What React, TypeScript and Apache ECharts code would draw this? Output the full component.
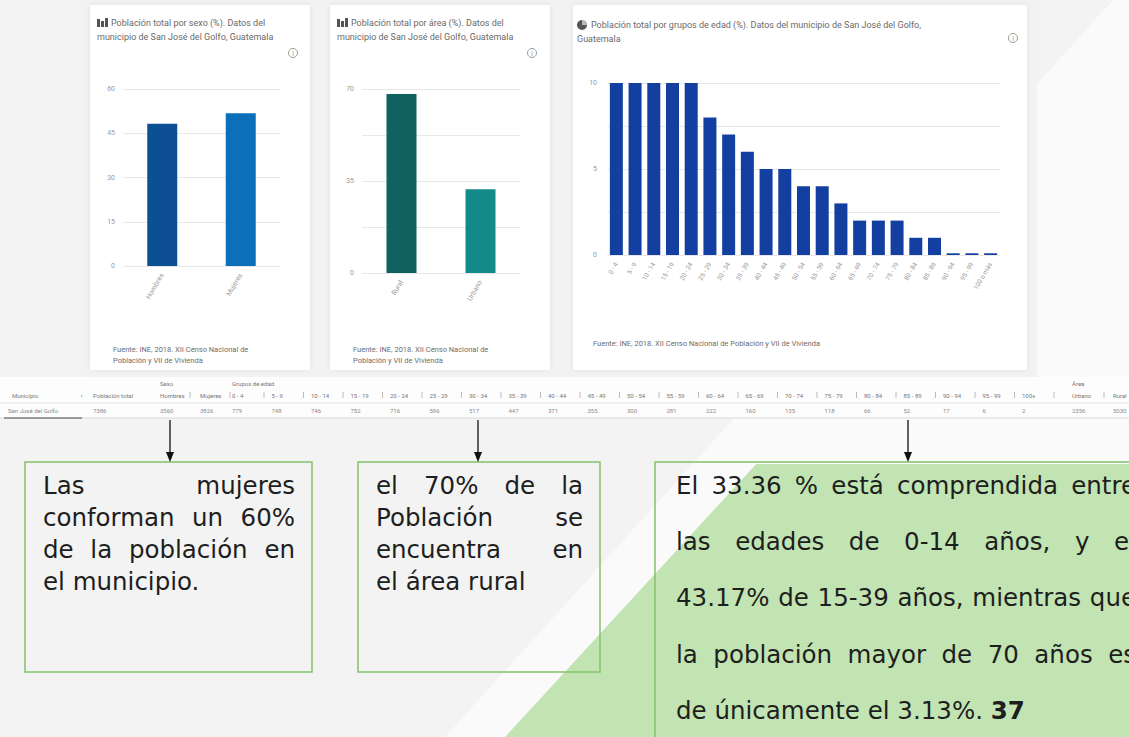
import React, { useEffect, useRef } from "react";
import * as echarts from "echarts";

const W = 1129;
const H = 737;

// ---------- chart data ----------
const sexCategories = ["Hombres", "Mujeres"];
const sexValues = [48.2, 51.8];
const areaCategories = ["Rural", "Urbano"];
const areaValues = [68.1, 31.9];
const ageCategories = [
  "0 - 4", "5 - 9", "10 - 14", "15 - 19", "20 - 24", "25 - 29", "30 - 34",
  "35 - 39", "40 - 44", "45 - 49", "50 - 54", "55 - 59", "60 - 64", "65 - 69",
  "70 - 74", "75 - 79", "80 - 84", "85 - 89", "90 - 94", "95 - 99", "100 o más",
];
const ageValues = [10, 10, 10, 10, 10, 8, 7, 6, 5, 5, 4, 4, 3, 2, 2, 2, 1, 1, 0.1, 0.1, 0.1];

// ---------- table data ----------
const tableHeadMunicipio = "Municipio";
const tableHeadPoblacion = "Población total";
const tableHeadSexo = "Sexo";
const tableHeadEdad = "Grupos de edad";
const tableHeadArea = "Área";
const tableSexoCols = ["Hombres", "Mujeres"];
const tableAreaCols = ["Urbano", "Rural"];
const tableMunicipio = "San José del Golfo";
const tablePoblacion = "7386";
const tableSexo = ["3560", "3826"];
const tableEdades = ["779", "748", "746", "752", "716", "596", "517", "447", "371", "355", "300", "281", "222", "160", "135", "118", "66", "52", "17", "6", "2"];
const tableArea = ["2356", "5030"];

// ---------- texts ----------
const titleSexo = ["Población total por sexo (%). Datos del", "municipio de San José del Golfo, Guatemala"];
const titleArea = ["Población total por área (%). Datos del", "municipio de San José del Golfo, Guatemala"];
const titleEdad = ["Población total por grupos de edad (%). Datos del municipio de San José del Golfo,", "Guatemala"];
const fuenteCorta = ["Fuente: INE, 2018. XII Censo Nacional de", "Población y VII de Vivienda"];
const fuenteLarga = "Fuente: INE, 2018. XII Censo Nacional de Población y VII de Vivienda";
const box1Lines = ["Las mujeres", "conforman un 60%", "de la población en", "el municipio."];
const box2Lines = ["el 70% de la", "Población se", "encuentra en", "el área rural"];
const box3Lines = [
  "El 33.36 % está comprendida entre",
  "las edades de 0-14 años, y el",
  "43.17% de 15-39 años, mientras que",
  "la población mayor de 70 años es",
  "de únicamente el 3.13%.",
];
const box3Bold = "37";

// ---------- styles ----------
const sexColors = ["#0d4f93", "#0b6fb9"];
const areaColors = ["#0f625e", "#13898a"];
const ageColor = "#1340a0";
const BODY_FONT = "DejaVu Sans";
const BODY_SIZE = 24.5;
const SMALL_FONT = "Roboto";

function buildOption() {
  const canvas = document.createElement("canvas");
  const ctx = canvas.getContext("2d")!;
  const measure = (t: string, weight = "normal") => {
    ctx.font = `${weight} ${BODY_SIZE}px "${BODY_FONT}"`;
    return ctx.measureText(t).width;
  };
  const G: any[] = [];
  const bodyText = (t: string, x: number, y: number, weight = "normal") => ({
    type: "text",
    x,
    y,
    z: 20,
    style: {
      text: t,
      x: 0,
      y: 0,
      fill: "#1e1e1e",
      fontSize: BODY_SIZE,
      fontFamily: BODY_FONT,
      fontWeight: weight,
      textAlign: "left",
      textVerticalAlign: "middle",
      align: "left",
      verticalAlign: "middle",
    },
  });
  const justify = (line: string, x: number, y: number, width: number, doJustify: boolean) => {
    const words = line.split(" ");
    if (!doJustify || words.length < 2) {
      G.push(bodyText(line, x, y));
      return;
    }
    const ws = words.map((w) => measure(w));
    const total = ws.reduce((a, b) => a + b, 0);
    const minGap = measure(" ");
    const gap = Math.max(minGap, (width - total) / (words.length - 1));
    let cx = x;
    words.forEach((w, i) => {
      G.push(bodyText(w, cx, y));
      cx += ws[i] + gap;
    });
  };
  const small = (t: string, x: number, y: number, size: number, color: string, align = "left", z = 20) => ({
    type: "text",
    x,
    y,
    z,
    style: {
      text: t,
      x: 0,
      y: 0,
      fill: color,
      fontSize: size,
      fontFamily: SMALL_FONT,
      textAlign: align,
      textVerticalAlign: "middle",
      align,
      verticalAlign: "middle",
    },
  });

  // ---- slide background ----
  G.push({ type: "rect", z: -100, shape: { x: 0, y: 0, width: W, height: H }, style: { fill: "#f3f3f3" } });
  G.push({ type: "polygon", z: -99, shape: { points: [[1113, 0], [W, 0], [W, H], [445, H]] }, style: { fill: "#fafafa" } });
  const boxTop = 462;
  const greenTop = boxTop + 2;
  const gx = 505 + (H - greenTop) * 0.92;
  G.push({ type: "polygon", z: -98, shape: { points: [[505, H], [gx, greenTop], [W, greenTop], [W, H]] }, style: { fill: "#c2e4b2" } });

  // ---- screenshot region ----
  G.push({ type: "rect", z: -97, shape: { x: 82, y: 0, width: 955, height: 377 }, style: { fill: "#f2f2f2" } });
  const cards = [
    { x: 90, y: 5, w: 220, h: 365 },
    { x: 330, y: 5, w: 220, h: 365 },
    { x: 573, y: 5, w: 454, h: 365 },
  ];
  cards.forEach((c) =>
    G.push({
      type: "rect",
      z: -96,
      shape: { x: c.x, y: c.y, width: c.w, height: c.h },
      style: { fill: "#ffffff", shadowBlur: 4, shadowColor: "rgba(0,0,0,0.08)" },
    })
  );
  // titles
  const titleColor = "#6a6a6a";
  const titles = [
    { lines: titleSexo, x: 97, y: 23 },
    { lines: titleArea, x: 337, y: 23 },
    { lines: titleEdad, x: 577, y: 25 },
  ];
  titles.forEach((t, k) => {
    if (k < 2) {
      G.push({ type: "rect", z: 20, shape: { x: t.x, y: t.y - 4, width: 3, height: 8 }, style: { fill: "#555" } });
      G.push({ type: "rect", z: 20, shape: { x: t.x + 4, y: t.y - 2, width: 3, height: 6 }, style: { fill: "#555" } });
      G.push({ type: "rect", z: 20, shape: { x: t.x + 8, y: t.y - 5, width: 3, height: 9 }, style: { fill: "#555" } });
    } else {
      G.push({ type: "circle", z: 20, shape: { cx: t.x + 5, cy: t.y, r: 5 }, style: { fill: "#555" } });
      G.push({ type: "sector", z: 21, shape: { cx: t.x + 5, cy: t.y, r: 5, startAngle: -Math.PI / 2, endAngle: 0 }, style: { fill: "#bbb" } });
    }
    G.push(small(t.lines[0], t.x + 14, t.y, 9, titleColor));
    G.push(small(t.lines[1], t.x, t.y + 14, 9, titleColor));
  });
  // info icons
  [[293, 53], [532, 53], [1013, 38]].forEach(([cx, cy]) => {
    G.push({ type: "circle", z: 20, shape: { cx, cy, r: 4.5 }, style: { fill: "none", stroke: "#9a9a9a", lineWidth: 1 } });
    G.push(small("i", cx, cy + 0.5, 7, "#9a9a9a", "center"));
  });
  // footnotes
  const fnColor = "#6e6e6e";
  G.push(small(fuenteCorta[0], 113, 349, 7.5, fnColor));
  G.push(small(fuenteCorta[1], 113, 360, 7.5, fnColor));
  G.push(small(fuenteCorta[0], 353, 349, 7.5, fnColor));
  G.push(small(fuenteCorta[1], 353, 360, 7.5, fnColor));
  G.push(small(fuenteLarga, 593, 343, 7.5, fnColor));

  // ---- table strip ----
  const tTop = 377;
  const tBottom = 418;
  G.push({ type: "rect", z: -90, shape: { x: 0, y: tTop, width: W, height: tBottom - tTop }, style: { fill: "#fdfdfd" } });
  G.push({ type: "line", z: 5, shape: { x1: 0, y1: 403, x2: W, y2: 403 }, style: { stroke: "#e2e2e2", lineWidth: 1 } });
  G.push({ type: "line", z: 5, shape: { x1: 0, y1: tBottom, x2: W, y2: tBottom }, style: { stroke: "#d8d8d8", lineWidth: 1 } });
  G.push({ type: "line", z: 6, shape: { x1: 4, y1: tBottom, x2: 82, y2: tBottom }, style: { stroke: "#9a9a9a", lineWidth: 2 } });
  const thColor = "#777";
  const tdColor = "#8a8a8a";
  const r1 = 383;
  const r2 = 395;
  const r3 = 410;
  const sexX = [160, 200];
  const ageX = tableEdades.map((_, i) => 232 + i * 39.5);
  const areaX = [1072, 1113];
  G.push(small(tableHeadSexo, sexX[0], r1, 6, thColor));
  G.push(small(tableHeadEdad, ageX[0], r1, 6, thColor));
  G.push(small(tableHeadArea, areaX[0], r1, 6, thColor));
  G.push(small(tableHeadMunicipio, 12, r2, 6, thColor));
  G.push(small("↑", 80, r2, 6, thColor));
  G.push(small(tableHeadPoblacion, 93, r2, 6, thColor));
  const colSep = (x: number) =>
    G.push({ type: "line", z: 5, shape: { x1: x, y1: r2 - 3, x2: x, y2: r2 + 3 }, style: { stroke: "#bbb", lineWidth: 1 } });
  tableSexoCols.forEach((t, i) => {
    G.push(small(t, sexX[i], r2, 6, thColor));
    colSep(sexX[i] + 30);
  });
  ageCategories.forEach((t, i) => {
    G.push(small(t.replace(" o más", "+"), ageX[i], r2, 6, thColor));
    colSep(ageX[i] + 32);
  });
  tableAreaCols.forEach((t, i) => {
    G.push(small(t, areaX[i], r2, 6, thColor));
    colSep(areaX[i] + 32);
  });
  G.push(small(tableMunicipio, 8, r3, 6, tdColor));
  G.push(small(tablePoblacion, 93, r3, 6, tdColor));
  tableSexo.forEach((t, i) => G.push(small(t, sexX[i], r3, 6, tdColor)));
  tableEdades.forEach((t, i) => G.push(small(t, ageX[i], r3, 6, tdColor)));
  tableArea.forEach((t, i) => G.push(small(t, areaX[i], r3, 6, tdColor)));

  // ---- arrows ----
  const arrowTop = tBottom + 2;
  [170, 478, 908].forEach((x) => {
    G.push({ type: "line", z: 20, shape: { x1: x, y1: arrowTop, x2: x, y2: boxTop - 8 }, style: { stroke: "#111", lineWidth: 1.3 } });
    G.push({ type: "polygon", z: 20, shape: { points: [[x - 4, boxTop - 10], [x + 4, boxTop - 10], [x, boxTop]] }, style: { fill: "#111" } });
  });

  // ---- text boxes ----
  const boxStroke = "#82c26a";
  const boxBottom = 672;
  G.push({ type: "rect", z: 15, shape: { x: 25, y: boxTop, width: 287, height: boxBottom - boxTop }, style: { fill: "none", stroke: boxStroke, lineWidth: 1.5 } });
  G.push({ type: "rect", z: 15, shape: { x: 358, y: boxTop, width: 242, height: boxBottom - boxTop }, style: { fill: "none", stroke: boxStroke, lineWidth: 1.5 } });
  G.push({ type: "rect", z: 15, shape: { x: 655, y: boxTop, width: 520, height: 320 }, style: { fill: "none", stroke: boxStroke, lineWidth: 1.5 } });

  const l1 = [485, 517, 549, 581];
  box1Lines.forEach((t, i) => justify(t, 43, l1[i], 252, i < box1Lines.length - 1));
  box2Lines.forEach((t, i) => justify(t, 376, l1[i], 207, i < box2Lines.length - 1));
  const l3 = [485, 541, 597, 654, 710];
  box3Lines.forEach((t, i) => justify(t, 676, l3[i], 460, i < box3Lines.length - 1));
  const lastW = measure(box3Lines[4] + " ");
  G.push(bodyText(box3Bold, 676 + lastW, l3[4], "bold"));

  const axisLabel = { color: "#9a9a9a", fontSize: 7, fontFamily: SMALL_FONT };
  const splitLine = { show: true, lineStyle: { color: "#e8e8e8", width: 1 } };
  const xBase = { type: "category", axisLine: { show: false }, axisTick: { show: false } };

  return {
    animation: false,
    backgroundColor: "transparent",
    graphic: { elements: G },
    grid: [
      { left: 123, top: 89, width: 157, height: 177 },
      { left: 362, top: 89, width: 158, height: 184 },
      { left: 607, top: 83, width: 393, height: 172 },
    ],
    xAxis: [
      { ...xBase, gridIndex: 0, data: sexCategories, axisLabel: { ...axisLabel, rotate: 60, interval: 0, margin: 8 } },
      { ...xBase, gridIndex: 1, data: areaCategories, axisLabel: { ...axisLabel, rotate: 60, interval: 0, margin: 8 } },
      { ...xBase, gridIndex: 2, data: ageCategories, axisLabel: { ...axisLabel, fontSize: 6.5, rotate: 60, interval: 0, margin: 8 } },
    ],
    yAxis: [
      { type: "value", gridIndex: 0, min: 0, max: 60, interval: 15, splitLine, axisLine: { show: false }, axisTick: { show: false }, axisLabel: { ...axisLabel, margin: 8 } },
      {
        type: "value", gridIndex: 1, min: 0, max: 70, interval: 17.5, splitLine, axisLine: { show: false }, axisTick: { show: false },
        axisLabel: { ...axisLabel, margin: 8, formatter: (v: number) => (v % 35 === 0 ? String(v) : "") },
      },
      {
        type: "value", gridIndex: 2, min: 0, max: 10, interval: 2.5, splitLine, axisLine: { show: false }, axisTick: { show: false },
        axisLabel: { ...axisLabel, margin: 10, formatter: (v: number) => (v % 5 === 0 ? String(v) : "") },
      },
    ],
    series: [
      {
        type: "bar", xAxisIndex: 0, yAxisIndex: 0, barWidth: 30,
        data: sexValues.map((v, i) => ({ value: v, itemStyle: { color: sexColors[i] } })),
      },
      {
        type: "bar", xAxisIndex: 1, yAxisIndex: 1, barWidth: 30,
        data: areaValues.map((v, i) => ({ value: v, itemStyle: { color: areaColors[i] } })),
      },
      {
        type: "bar", xAxisIndex: 2, yAxisIndex: 2, barWidth: 13,
        itemStyle: { color: ageColor },
        data: ageValues,
      },
    ],
  };
}

export default function App() {
  const ref = useRef<HTMLDivElement>(null);
  useEffect(() => {
    document.body.style.margin = "0";
    const chart = echarts.init(ref.current!, null, { renderer: "svg", width: W, height: H });
    chart.setOption(buildOption() as any);
    return () => chart.dispose();
  }, []);
  return <div ref={ref} style={{ width: W, height: H, position: "absolute", left: 0, top: 0, overflow: "hidden" }} />;
}
